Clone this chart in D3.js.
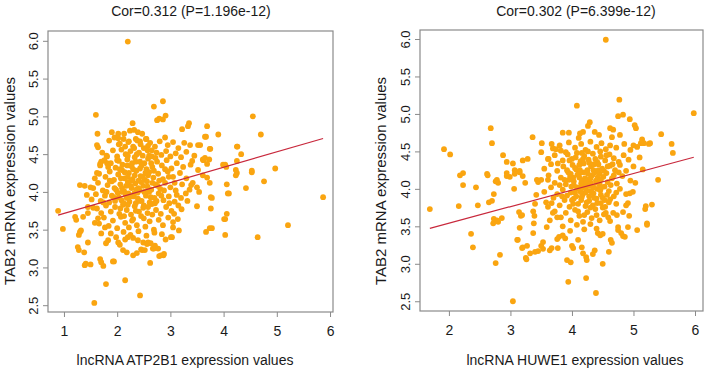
<!DOCTYPE html>
<html>
<head>
<meta charset="utf-8">
<script src="https://cdn.jsdelivr.net/npm/d3@7"></script>
<style>
body { margin: 0; background: #fff; }
text { font-family: "Liberation Sans", Arial, sans-serif; fill: #1a1a1a; }
</style>
</head>
<body>
<script>
// lncRNA ATP2B1 (x) vs TAB2 mRNA (y)
var atpPoints = [
  [2.20,5.99],[1.60,5.02],[1.63,4.77],[1.62,4.62],[1.64,4.59],[2.69,5.13],[2.86,5.20],[2.91,5.01],[2.79,4.97],[2.86,4.96],
  [2.75,4.95],[2.29,4.91],[3.35,4.91],[3.22,4.83],[3.69,4.87],[3.67,4.73],[3.90,4.76],[4.55,5.00],[4.70,4.76],[4.25,4.60],
  [4.33,4.50],[4.03,4.36],[4.23,4.29],[4.25,4.25],[4.53,4.26],[4.97,4.31],[4.76,4.14],[4.06,4.10],[3.75,4.57],[3.62,4.42],
  [3.73,4.43],[3.52,4.29],[3.37,4.62],[3.56,4.62],[1.30,4.09],[1.39,4.08],[1.50,4.06],[1.81,4.38],[1.83,4.33],[1.62,4.25],
  [1.70,4.40],[0.89,3.75],[0.98,3.51],[5.87,3.93],[5.21,3.56],[4.64,3.40],[4.42,4.05],[4.08,3.98],[4.06,3.71],[4.01,3.64],
  [4.03,3.43],[3.76,3.93],[3.76,3.78],[3.74,3.52],[3.67,3.47],[3.50,3.81],[3.29,3.98],[3.07,3.71],[3.16,3.49],[3.03,3.40],
  [2.91,3.37],[2.87,3.16],[2.79,3.15],[2.62,3.06],[2.43,2.63],[2.15,2.83],[1.79,2.78],[1.57,2.53],[1.39,3.03],[1.50,3.04],
  [1.74,3.02],[1.94,3.08],[1.68,3.11],[1.28,3.23],[1.38,3.20],[1.45,3.33],[1.28,3.43],[1.21,3.67],[1.36,3.67],[1.45,3.80],
  [1.43,3.96],[2.05,3.30],[2.15,3.37],[2.18,3.20],[2.30,3.16],[2.37,3.19],[2.47,3.23],[2.49,3.33],[2.56,3.31],[2.63,3.32],
  [2.67,3.25],[1.23,3.63],[1.30,3.47],[1.32,3.49],[1.26,3.27],[1.41,3.05],[1.70,3.07],[1.92,3.08],[2.11,3.23],[2.45,3.24],
  [2.52,3.23],[2.69,3.25],[2.82,3.16],[2.88,3.18],[2.71,3.29],[3.01,3.40],[3.21,3.77],[3.14,3.64],[3.05,3.53],[3.12,3.96],
  [3.39,4.09],[1.83,3.36],[1.79,3.32],[2.02,3.33],[2.20,3.40],[2.30,3.39],[2.39,3.36],[2.58,3.33],[2.77,3.25],[1.70,3.45],
  [1.77,3.53],[1.58,3.59],[1.64,3.65],[1.45,3.72],[1.55,3.79],[1.90,4.79],[2.02,4.77],[2.13,4.77],[2.24,4.81],[2.32,4.82],
  [2.39,4.79],[2.47,4.77],[3.33,4.87],[3.65,4.73],[3.52,4.62],[3.74,4.57],[4.26,4.60],[4.25,4.41],[3.61,4.43],[3.65,4.45],
  [3.69,4.37],[3.41,4.41],[3.99,4.36],[4.05,4.33],[4.53,4.28],[3.42,4.12],[3.50,4.06],[3.54,4.00],[3.78,3.92],[4.10,3.98],
  [4.03,3.64],[3.78,3.52],[4.23,4.22],[3.61,4.22],[3.69,4.19],[3.74,4.12],[2.02,4.71],[2.03,4.63],[2.22,4.67],[2.35,4.70],
  [2.43,4.67],[2.54,4.70],[2.58,4.61],[2.32,4.58],[1.81,4.47],[1.68,4.37],
  [1.85,4.68],[1.95,4.72],[2.05,4.64],[2.12,4.70],[2.21,4.66],[2.30,4.60],[2.38,4.68],[2.44,4.63],[2.55,4.70],[2.62,4.65],
  [2.71,4.60],[2.80,4.67],[2.95,4.62],[3.05,4.66],[3.15,4.58],[3.26,4.65],[2.90,4.72],[2.50,4.58],
  [1.72,4.52],[1.80,4.48],[1.92,4.55],[2.00,4.47],[2.08,4.56],[2.16,4.50],[2.25,4.54],[2.33,4.46],[2.41,4.52],[2.48,4.48],
  [2.57,4.55],[2.65,4.47],[2.74,4.52],[2.83,4.49],[2.92,4.54],[3.00,4.47],[3.10,4.51],[3.20,4.46],[3.30,4.53],[3.45,4.48],
  [1.68,4.35],[1.76,4.42],[1.88,4.38],[1.97,4.32],[2.03,4.41],[2.10,4.36],[2.19,4.43],[2.27,4.34],[2.35,4.40],[2.43,4.31],
  [2.51,4.38],[2.58,4.44],[2.66,4.33],[2.75,4.40],[2.84,4.35],[2.93,4.42],[3.02,4.31],[3.12,4.38],[3.24,4.33],[3.38,4.36],
  [1.58,4.18],[1.66,4.24],[1.78,4.20],[1.86,4.27],[1.94,4.16],[2.02,4.23],[2.09,4.29],[2.14,4.18],[2.22,4.25],[2.29,4.17],
  [2.36,4.28],[2.44,4.21],[2.52,4.16],[2.60,4.26],[2.68,4.19],[2.77,4.24],[2.86,4.17],[2.95,4.27],[3.05,4.20],[3.18,4.25],
  [3.30,4.18],[1.55,4.05],[1.64,4.12],[1.73,4.02],[1.82,4.09],[1.90,4.14],[1.98,4.03],[2.06,4.10],[2.13,4.01],[2.20,4.13],
  [2.27,4.05],[2.34,4.11],[2.42,4.02],[2.49,4.08],[2.56,4.14],[2.64,4.03],[2.72,4.10],[2.81,4.04],[2.90,4.12],[3.00,4.06],
  [3.10,4.02],[3.22,4.10],[3.36,4.03],[1.52,3.90],[1.60,3.97],[1.69,3.88],[1.77,3.95],[1.85,3.86],[1.93,3.93],[2.01,3.99],
  [2.08,3.89],[2.16,3.96],[2.23,3.87],[2.31,3.94],[2.38,3.99],[2.46,3.88],[2.54,3.95],[2.61,3.86],[2.70,3.92],[2.78,3.98],
  [2.87,3.89],[2.97,3.94],[3.08,3.87],[3.20,3.92],[3.32,3.88],[1.62,3.78],[1.70,3.72],[1.79,3.82],[1.88,3.74],[1.96,3.80],
  [2.04,3.71],[2.11,3.83],[2.18,3.76],[2.26,3.70],[2.33,3.81],[2.41,3.74],[2.49,3.79],[2.57,3.72],[2.65,3.84],[2.73,3.76],
  [2.82,3.71],[2.92,3.80],[3.02,3.75],[3.15,3.82],[1.66,3.58],[1.75,3.66],[1.84,3.55],[1.92,3.62],[2.00,3.52],[2.07,3.67],
  [2.15,3.59],[2.22,3.53],[2.30,3.64],[2.37,3.56],[2.45,3.68],[2.53,3.54],[2.61,3.61],[2.69,3.50],[2.78,3.63],[2.86,3.56],
  [2.96,3.66],[3.05,3.60],[1.88,3.45],[1.98,3.40],[2.12,3.47],[2.25,3.43],[2.40,3.48],[2.55,3.42],[2.70,3.46],[2.84,3.44],
  [2.10,4.00],[2.18,3.92],[2.25,4.08],[2.32,3.98],[2.40,4.05],[2.20,4.20],[2.48,4.20],[2.35,3.85],[2.12,3.85],[1.95,4.05],
  [2.60,4.00],[2.28,4.38],[2.05,4.30],[2.55,4.30],[2.65,4.55],[2.15,4.60],
  [2.00,4.42],[2.07,4.18],[2.14,4.26],[2.21,3.98],[2.26,4.15],[2.33,4.22],[2.39,3.91],[2.45,4.13],[2.51,4.00],[2.58,4.22],
  [2.63,3.93],[2.69,4.28],[2.76,4.08],[2.83,3.95],[2.90,4.30],[1.96,3.88],[2.03,3.93],[2.09,4.05],[2.17,4.08],[2.24,3.94],
  [2.30,4.30],[2.36,4.03],[2.43,4.40],[2.50,3.82],[2.57,4.07],[2.64,4.38],[2.71,3.85],[2.79,4.15],[2.88,4.02],[2.97,4.20],
  [2.06,3.78],[2.13,3.68],[2.20,3.83],[2.28,3.62],[2.35,3.75],[2.42,3.88],[2.50,3.65],[2.58,3.80],[2.66,3.70],[2.74,3.88],
  [2.20,4.48],[2.37,4.50],[2.46,4.35],[2.60,4.48],[2.72,4.45],[1.86,4.15],[1.80,4.00],[1.90,3.95],[2.98,3.85],[3.08,4.12],
  [1.74,3.86],[2.40,4.15],[2.19,4.35],[2.66,4.12],[2.53,4.25]
];

// lncRNA HUWE1 (x) vs TAB2 mRNA (y)
var huwePoints = [
  [4.55,5.99],[4.77,5.19],[4.08,5.11],[5.98,5.01],[4.75,4.97],[4.83,4.99],[4.94,4.93],[5.02,4.85],[5.04,4.81],[4.29,4.89],
  [4.26,4.84],[4.18,4.76],[4.13,4.74],[4.11,4.68],[4.37,4.76],[4.44,4.72],[4.62,4.81],[4.67,4.79],[4.65,4.69],[4.78,4.72],
  [5.45,4.73],[5.62,4.60],[5.64,4.48],[5.25,4.60],[5.06,4.56],[5.00,4.58],[5.14,4.66],[1.92,4.53],[2.02,4.46],[2.68,4.81],
  [2.70,4.61],[3.36,4.69],[3.51,4.61],[3.50,4.49],[3.67,4.60],[3.69,4.54],[3.74,4.53],[3.82,4.51],[3.90,4.49],[3.85,4.75],
  [3.95,4.75],[2.88,4.45],[2.94,4.36],[3.04,4.34],[3.20,4.38],[3.28,4.40],[2.62,4.20],[2.18,4.18],[2.23,4.21],[2.44,4.02],
  [2.23,4.05],[2.78,4.12],[2.80,4.08],[2.94,4.21],[2.99,4.16],[3.07,4.25],[3.15,4.22],[3.43,4.12],[3.45,4.09],[3.61,4.12],
  [1.69,3.73],[2.16,3.77],[2.47,3.78],[2.36,3.40],[2.39,3.22],[2.65,3.82],[2.70,3.84],[2.73,3.93],[2.63,4.18],[2.72,3.54],
  [2.75,3.57],[2.73,3.60],[2.78,3.58],[2.80,3.56],[2.86,3.61],[2.76,3.01],[2.83,3.12],[3.04,2.50],[3.06,4.00],[3.14,3.69],
  [3.17,3.64],[3.19,3.65],[3.12,3.32],[3.15,3.48],[3.19,3.21],[3.20,3.22],[3.25,3.08],[3.32,3.14],[3.40,3.16],[3.45,3.17],
  [3.53,3.20],[3.37,3.41],[3.38,3.54],[3.39,3.64],[3.37,3.70],[3.40,3.80],[3.42,3.92],[3.50,3.24],[3.53,3.29],[3.59,3.49],
  [3.64,3.58],[3.64,3.18],[3.67,3.21],[3.77,3.21],[3.76,3.33],[3.79,3.36],[3.61,3.76],[3.67,3.81],[3.69,3.68],[3.76,3.62],
  [3.85,3.38],[3.89,3.34],[3.92,3.05],[3.98,3.02],[3.94,2.76],[4.00,3.24],[4.02,3.21],[4.10,3.32],[4.16,3.22],[4.18,3.14],
  [4.23,3.09],[4.24,3.05],[4.23,2.81],[4.39,2.61],[4.37,3.18],[4.34,3.13],[4.50,3.00],[4.42,3.41],[4.46,3.38],[4.50,3.40],
  [4.60,3.16],[4.63,3.32],[4.65,3.28],[4.55,3.68],[4.59,3.62],[4.67,3.68],[4.73,3.65],[4.75,3.49],[4.75,3.45],[4.80,3.41],
  [4.83,3.37],[4.86,3.36],[4.91,3.49],[4.93,3.64],[4.83,3.69],[4.88,3.78],[4.91,3.81],[4.94,3.94],[4.99,3.96],[5.03,4.08],
  [5.06,3.45],[5.20,3.77],[5.19,3.73],[5.22,3.54],[5.22,3.52],[5.30,3.79],[5.40,4.12],[5.27,4.61],[5.17,4.61],[5.12,4.61],
  [2.76,4.10],[2.94,4.17],[3.07,4.20],[3.15,4.24],[3.24,4.08],[3.20,4.17],[3.11,3.32],[3.27,3.24],[3.26,3.06],[3.61,4.40],
  [3.77,4.34],
  [3.80,4.58],[3.95,4.62],[4.05,4.55],[4.15,4.60],[4.22,4.52],[4.30,4.63],[4.40,4.56],[4.48,4.61],[4.55,4.53],[4.62,4.58],
  [4.72,4.55],[4.85,4.60],[4.95,4.52],[3.62,4.40],[3.72,4.45],[3.85,4.38],[3.93,4.46],[4.00,4.40],[4.08,4.48],[4.14,4.37],
  [4.20,4.44],[4.27,4.39],[4.34,4.47],[4.41,4.36],[4.47,4.43],[4.54,4.38],[4.61,4.46],[4.68,4.41],[4.76,4.36],[4.84,4.45],
  [4.92,4.39],[5.10,4.42],[3.55,4.27],[3.66,4.33],[3.76,4.24],[3.86,4.30],[3.94,4.22],[4.01,4.32],[4.07,4.26],[4.13,4.21],
  [4.19,4.34],[4.25,4.25],[4.31,4.30],[4.37,4.22],[4.43,4.33],[4.49,4.27],[4.56,4.21],[4.62,4.31],[4.70,4.25],[4.78,4.32],
  [4.88,4.24],[5.00,4.30],[5.15,4.26],[3.50,4.12],[3.62,4.18],[3.72,4.08],[3.82,4.15],[3.90,4.06],[3.97,4.17],[4.03,4.10],
  [4.09,4.19],[4.15,4.07],[4.21,4.14],[4.27,4.05],[4.33,4.18],[4.39,4.11],[4.45,4.06],[4.51,4.16],[4.58,4.09],[4.65,4.14],
  [4.73,4.07],[4.82,4.17],[4.95,4.11],[3.55,3.96],[3.66,4.02],[3.76,3.93],[3.85,3.99],[3.92,3.91],[3.99,4.03],[4.05,3.95],
  [4.11,4.01],[4.17,3.92],[4.23,3.99],[4.29,4.04],[4.35,3.94],[4.41,4.00],[4.47,3.92],[4.53,4.03],[4.60,3.97],[4.68,3.90],
  [4.78,4.00],[4.88,3.93],[3.58,3.82],[3.70,3.88],[3.80,3.78],[3.88,3.85],[3.96,3.76],[4.03,3.87],[4.10,3.80],[4.16,3.89],
  [4.22,3.77],[4.28,3.84],[4.34,3.78],[4.40,3.87],[4.47,3.81],[4.54,3.76],[4.62,3.86],[4.72,3.80],[3.72,3.70],[3.82,3.62],
  [3.90,3.68],[3.98,3.58],[4.05,3.72],[4.12,3.64],[4.18,3.56],[4.25,3.69],[4.32,3.61],[4.38,3.73],[4.45,3.58],[4.52,3.66],
  [4.62,3.57],[3.85,3.50],[3.97,3.44],[4.08,3.52],[4.20,3.46],[4.30,3.53],[4.40,3.47],[4.10,4.00],[4.20,4.05],[4.30,3.97],
  [4.15,3.85],[4.25,4.12],[4.35,4.25],[4.05,4.28],[4.40,4.08],[4.00,3.85],[4.45,4.20],[4.18,4.40],[4.50,3.88],[3.95,4.12],
  [4.28,3.90],[4.12,4.15],[4.38,4.40],
  [3.92,4.25],[3.98,3.95],[4.02,4.15],[4.07,3.90],[4.12,4.32],[4.16,4.10],[4.22,3.95],[4.26,4.20],[4.31,4.08],[4.36,3.88],
  [4.42,4.16],[4.46,3.98],[4.52,4.24],[4.57,3.92],[4.63,4.05],[4.68,4.18],[4.02,3.80],[4.08,4.02],[4.14,3.96],[4.19,4.22],
  [4.24,3.82],[4.30,4.14],[4.35,4.02],[4.41,3.81],[4.47,4.12],[4.53,3.85],[4.58,4.30],[3.96,4.38],[4.06,4.42],[4.16,4.48],
  [4.26,4.50],[4.36,4.33],[4.46,4.50],[4.56,4.45],[4.66,4.33],[3.88,4.12],[3.80,4.05],[3.84,3.90],[4.72,3.95],[4.76,4.22],
  [4.10,3.70],[4.20,3.65],[4.30,3.75],[4.40,3.65],[4.50,3.75],[4.03,4.05],[4.23,4.10],[4.33,3.95],[4.13,4.25],[4.43,4.25],
  [4.48,4.02],[4.18,4.02],[3.98,4.20],[4.60,3.82],[4.28,4.35]
];

// fitted lines: [intercept, slope]
var atpFit = [3.51, 0.204];
var huweFit = [3.10, 0.221];

var atpXTicks = [1, 2, 3, 4, 5, 6];
var huweXTicks = [2, 3, 4, 5, 6];
var yTicks = [2.5, 3.0, 3.5, 4.0, 4.5, 5.0, 5.5, 6.0];

var titles = ["Cor=0.312 (P=1.196e-12)", "Cor=0.302 (P=6.399e-12)"];
var xLabels = ["lncRNA ATP2B1 expression values", "lncRNA HUWE1 expression values"];
var yLabel = "TAB2 mRNA expression values";

var w = 709;
var h = 372;

var svg = d3.select("body")
            .append("svg")
            .attr("width", w)
            .attr("height", h);

function drawPanel(cfg)
{
    var x = d3.scaleLinear().domain(cfg.xDomain).range([cfg.left, cfg.right]);
    var y = d3.scaleLinear().domain(cfg.yDomain).range([cfg.bottom, cfg.top]);

    var g = svg.append("g");

    // points
    g.selectAll("circle")
     .data(cfg.points)
     .enter()
     .append("circle")
     .attr("cx", function(d) { return x(d[0]); })
     .attr("cy", function(d) { return y(d[1]); })
     .attr("r", 2.9)
     .style("fill", "#faa510");

    // regression line over the data range
    var xr = d3.extent(cfg.points, function(d) { return d[0]; });
    g.append("line")
     .attr("x1", x(xr[0]))
     .attr("y1", y(cfg.fit[0] + cfg.fit[1] * xr[0]))
     .attr("x2", x(xr[1]))
     .attr("y2", y(cfg.fit[0] + cfg.fit[1] * xr[1]))
     .style("stroke", "#c8283c")
     .style("stroke-width", 1.2);

    // box
    g.append("rect")
     .attr("x", cfg.left)
     .attr("y", cfg.top)
     .attr("width", cfg.right - cfg.left)
     .attr("height", cfg.bottom - cfg.top)
     .style("fill", "none")
     .style("stroke", "#8a8a8a")
     .style("stroke-width", 1.2);

    var xAxis = g.append("g")
                 .attr("transform", "translate(0," + cfg.bottom + ")")
                 .call(d3.axisBottom(x).tickValues(cfg.xTicks).tickSize(5).tickPadding(9).tickFormat(d3.format("d")));
    xAxis.select(".domain").remove();
    xAxis.selectAll("line").style("stroke", "#8a8a8a");
    xAxis.selectAll("text").style("font-size", "14px").style("fill", "#1a1a1a");

    var yAxis = g.append("g")
                 .attr("transform", "translate(" + cfg.left + ",0)")
                 .call(d3.axisLeft(y).tickValues(yTicks).tickSize(5).tickFormat(d3.format(".1f")));
    yAxis.select(".domain").remove();
    yAxis.selectAll("line").style("stroke", "#8a8a8a");
    yAxis.selectAll("text")
         .attr("transform", "rotate(-90)")
         .attr("x", 0)
         .attr("y", -10)
         .attr("dy", null)
         .attr("text-anchor", "middle")
         .style("font-size", "13px")
         .style("fill", "#1a1a1a");

    svg.append("text")
       .attr("x", cfg.titleX)
       .attr("y", 16)
       .attr("text-anchor", "middle")
       .style("font-size", "14px")
       .text(cfg.title);

    svg.append("text")
       .attr("x", cfg.xLabelX)
       .attr("y", 365)
       .attr("text-anchor", "middle")
       .style("font-size", "14px")
       .text(cfg.xLabel);

    svg.append("text")
       .attr("transform", "translate(" + cfg.yLabelX + ",181) rotate(-90)")
       .attr("text-anchor", "middle")
       .style("font-size", "15px")
       .text(yLabel);
}

drawPanel({
    points: atpPoints, fit: atpFit, xTicks: atpXTicks,
    xDomain: [0.70, 6.056], yDomain: [2.41, 6.13],
    left: 48, right: 333, top: 31, bottom: 312,
    title: titles[0], titleX: 191, xLabel: xLabels[0], xLabelX: 185, yLabelX: 15
});

drawPanel({
    points: huwePoints, fit: huweFit, xTicks: huweXTicks,
    xDomain: [1.53, 6.13], yDomain: [2.37, 6.12],
    left: 420, right: 703, top: 30, bottom: 311,
    title: titles[1], titleX: 576, xLabel: xLabels[1], xLabelX: 575, yLabelX: 386
});
</script>
</body>
</html>
